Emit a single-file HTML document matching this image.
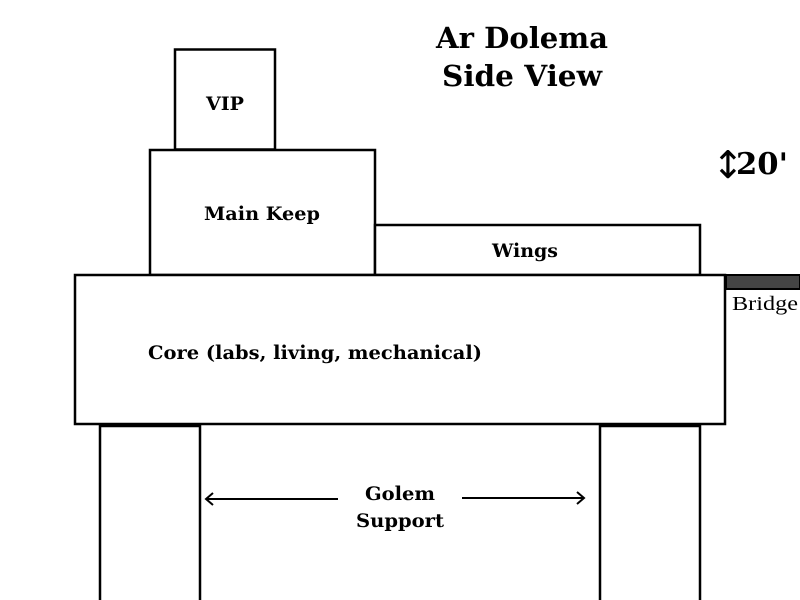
<!DOCTYPE html>
<html><head><meta charset="utf-8"><style>
html,body{margin:0;padding:0;background:#fff;width:800px;height:600px;overflow:hidden}
text{font-family:"DejaVu Serif","Liberation Serif",serif;font-weight:bold;fill:#000}
</style></head><body>
<svg width="800" height="600" viewBox="0 0 800 600" xmlns="http://www.w3.org/2000/svg">
<g fill="#fff" stroke="#000" stroke-width="2.5">
<rect x="175" y="49.5" width="100" height="100"/>
<rect x="150" y="150" width="225" height="125"/>
<rect x="375" y="225" width="325" height="50"/>
<rect x="75" y="275" width="650" height="149"/>
<rect x="100" y="426" width="100" height="180"/>
<rect x="600" y="426" width="100" height="180"/>
</g>
<rect x="726" y="275" width="74" height="14" fill="#444" stroke="#000" stroke-width="2"/>
<text x="732" y="310" style="font-family:'Liberation Serif',serif;font-weight:normal" font-size="20" textLength="66" lengthAdjust="spacingAndGlyphs">Bridge</text>
<text x="522" y="48" text-anchor="middle" font-size="29" textLength="172" lengthAdjust="spacingAndGlyphs">Ar Dolema</text>
<text x="522" y="86" text-anchor="middle" font-size="29" textLength="160" lengthAdjust="spacingAndGlyphs">Side View</text>
<text x="712" y="178" font-size="38" style="font-family:'DejaVu Sans',sans-serif;font-weight:normal">↕</text>
<text x="736" y="174" font-size="30" textLength="52" lengthAdjust="spacingAndGlyphs">20'</text>
<text x="225" y="110" text-anchor="middle" font-size="19" textLength="38" lengthAdjust="spacingAndGlyphs">VIP</text>
<text x="262" y="220" text-anchor="middle" font-size="19" textLength="116" lengthAdjust="spacingAndGlyphs">Main Keep</text>
<text x="525" y="257" text-anchor="middle" font-size="19" textLength="66" lengthAdjust="spacingAndGlyphs">Wings</text>
<text x="148" y="359" font-size="19" textLength="334" lengthAdjust="spacingAndGlyphs">Core (labs, living, mechanical)</text>
<text x="400" y="500" text-anchor="middle" font-size="19" textLength="70" lengthAdjust="spacingAndGlyphs">Golem</text>
<text x="400" y="527" text-anchor="middle" font-size="19" textLength="88" lengthAdjust="spacingAndGlyphs">Support</text>
<g stroke="#000" stroke-width="2" fill="none">
<line x1="206" y1="499" x2="338" y2="499"/>
<polyline points="213,493 206,499 213,505"/>
<line x1="462" y1="498" x2="584" y2="498"/>
<polyline points="577,492 584,498 577,504"/>
</g>
</svg>
</body></html>
